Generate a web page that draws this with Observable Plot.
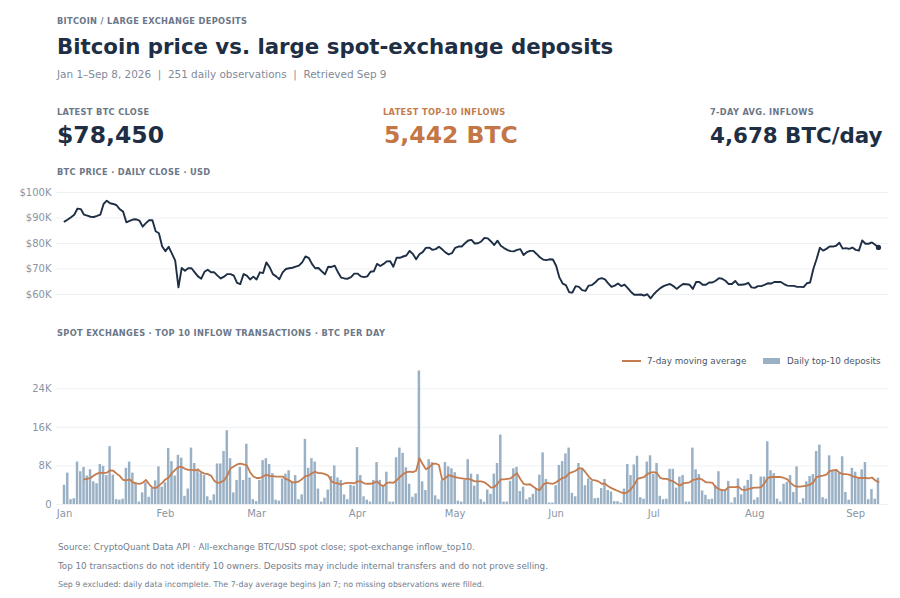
<!DOCTYPE html>
<html><head><meta charset="utf-8">
<script src="https://cdn.jsdelivr.net/npm/d3@7"></script>
<script src="https://cdn.jsdelivr.net/npm/@observablehq/plot@0.6"></script>
<style>
html,body{margin:0;padding:0;background:#fff;font-family:"DejaVu Sans",sans-serif;}
#page{position:relative;width:900px;height:598px;overflow:hidden;}
.t{position:absolute;white-space:nowrap;line-height:1;}
.lab{font-size:8.25px;font-weight:700;color:#6b7788;letter-spacing:.33px;}
.val{font-size:23.5px;font-weight:700;color:#1e2f45;}
.foot{font-size:8.75px;color:#727d8c;}
#price,#flow{position:absolute;left:0;}
svg{display:block;overflow:visible;}
</style></head><body>
<div id="page">
<div class="t lab" style="left:57px;top:17px">BITCOIN / LARGE EXCHANGE DEPOSITS</div>
<div class="t" style="left:57px;top:36px;font-size:21.3px;font-weight:700;color:#1e2f45">Bitcoin price vs. large spot-exchange deposits</div>
<div class="t" style="left:57px;top:69px;font-size:10.45px;color:#7f8a99">Jan 1–Sep 8, 2026&nbsp; |&nbsp; 251 daily observations&nbsp; |&nbsp; Retrieved Sep 9</div>
<div class="t lab" style="left:57px;top:108px">LATEST BTC CLOSE</div>
<div class="t val" style="left:57px;top:124px">$78,450</div>
<div class="t lab" style="left:383px;top:108px;color:#c47c4e">LATEST TOP-10 INFLOWS</div>
<div class="t val" style="left:384px;top:124px;color:#c47646">5,442 BTC</div>
<div class="t lab" style="left:710px;top:108px">7-DAY AVG. INFLOWS</div>
<div class="t val" style="left:710px;top:125px;font-size:21.4px">4,678 BTC/day</div>
<div class="t lab" style="left:57px;top:168px">BTC PRICE · DAILY CLOSE · USD</div>
<div id="price" style="top:180px"></div>
<div class="t lab" style="left:57px;top:329px">SPOT EXCHANGES · TOP 10 INFLOW TRANSACTIONS · BTC PER DAY</div>
<div id="flow" style="top:364px"></div>
<div style="position:absolute;left:622px;top:360px;width:19px;height:2px;background:#c47c4e"></div>
<div class="t" style="left:647px;top:357px;font-size:8.8px;color:#4a5565">7-day moving average</div>
<div style="position:absolute;left:763px;top:358px;width:17px;height:6px;background:#9ab0c4"></div>
<div class="t" style="left:787px;top:357px;font-size:8.8px;color:#4a5565">Daily top-10 deposits</div>
<div class="t foot" style="left:58px;top:543px">Source: CryptoQuant Data API · All-exchange BTC/USD spot close; spot-exchange inflow_top10.</div>
<div class="t foot" style="left:58px;top:562px">Top 10 transactions do not identify 10 owners. Deposits may include internal transfers and do not prove selling.</div>
<div class="t foot" style="left:58px;top:581px;font-size:7.85px">Sep 9 excluded: daily data incomplete. The 7-day average begins Jan 7; no missing observations were filled.</div>
</div>
<script>
// BTC daily close, $K, Jan 1 .. Sep 8
const priceK = [
88.6,89.4,90.3,91.3,93.7,93.5,91.3,90.9,90.5,90.4,
90.8,91.3,95.5,96.8,95.8,95.5,95.0,93.4,92.5,88.3,
88.9,89.4,89.5,89.0,86.6,88.0,89.1,89.1,84.8,84.0,
78.8,77.0,78.7,76.0,73.3,62.8,70.4,69.3,70.3,70.3,
68.7,67.1,66.2,68.9,69.7,68.7,68.7,67.4,66.3,67.0,
68.0,68.0,67.4,64.6,64.1,68.0,67.4,65.9,67.0,65.9,
68.7,68.4,72.6,70.7,68.0,67.1,66.0,68.7,70.0,70.3,
70.5,70.9,71.3,72.6,74.9,74.4,72.0,70.3,70.4,69.1,
67.9,70.9,70.8,71.3,68.7,66.6,66.3,66.2,66.8,68.2,
68.2,67.1,66.8,67.1,68.9,69.1,72.0,71.2,72.0,73.0,
73.1,70.9,74.4,74.4,74.9,75.3,77.1,75.9,73.8,75.8,
76.6,78.3,78.4,77.5,77.8,78.7,77.7,76.5,75.7,76.2,
78.3,78.8,78.8,80.1,81.2,81.4,80.0,80.1,80.8,82.2,
82.0,80.8,79.4,81.1,79.1,78.2,77.5,77.0,76.9,77.5,
77.8,75.5,76.6,77.1,77.1,75.9,74.6,73.7,73.5,73.8,
73.7,71.3,66.7,64.3,63.7,60.9,60.8,63.3,63.0,61.7,
61.4,63.5,63.7,64.7,66.0,66.4,65.9,64.4,63.0,63.5,
64.3,63.3,63.9,62.5,61.0,59.9,59.9,60.0,59.6,60.1,
58.5,60.1,61.4,62.5,63.3,63.8,64.1,63.3,62.2,63.2,
64.1,64.0,63.8,62.2,64.9,64.9,63.8,63.8,64.7,64.7,
65.4,66.4,66.2,65.4,64.1,64.1,65.3,63.8,63.8,64.0,
64.6,62.8,62.6,63.3,63.3,63.8,64.4,64.3,64.9,64.9,
64.9,64.1,63.5,63.4,63.4,63.0,63.0,62.9,64.4,64.7,
70.0,73.9,78.3,77.2,77.9,78.8,78.8,79.1,80.3,78.0,
78.2,77.9,78.4,77.5,77.2,81.2,79.9,79.9,80.4,79.5,
78.45];
// Daily top-10 inflows, K BTC
const depositsK = [
4.0,6.5,1.0,1.2,8.8,6.8,7.7,5.9,7.2,4.7,
4.3,8.3,7.9,6.0,12.0,6.1,1.0,0.9,1.1,7.5,
8.8,6.5,4.5,0.5,2.4,4.5,1.5,3.3,4.9,7.8,
3.6,4.5,11.6,8.9,5.9,10.2,9.6,1.7,3.2,11.7,
8.5,7.0,6.5,6.0,1.6,0.8,2.0,8.4,8.4,11.0,
15.3,9.5,2.4,5.0,7.7,5.0,12.5,5.5,1.0,0.6,
5.0,9.1,9.5,8.3,6.4,0.9,0.7,5.3,6.3,7.0,
4.7,6.0,1.0,2.0,13.5,7.5,9.5,8.8,3.2,0.5,
1.3,3.0,5.8,8.0,5.5,5.0,2.0,1.0,4.0,3.8,
11.8,6.0,1.6,0.9,0.5,5.0,8.7,5.0,3.7,6.7,
0.5,0.5,9.7,11.7,10.6,7.6,4.2,1.5,2.2,27.7,
4.7,2.9,9.3,8.7,1.8,1.0,4.9,8.7,7.8,7.4,
6.6,0.7,0.5,5.0,9.3,6.3,3.8,6.2,1.0,0.5,
3.0,2.1,6.3,8.5,14.4,0.5,0.5,4.8,7.4,7.7,
2.7,3.6,1.0,1.4,2.1,3.2,6.1,10.7,5.2,0.3,
0.3,3.9,8.1,8.9,10.5,11.7,2.3,1.6,8.5,7.4,
3.9,5.3,4.8,1.2,1.3,3.3,5.2,2.9,2.6,0.6,
0.6,0.3,3.2,8.3,6.0,8.2,10.0,1.4,1.1,8.8,
10.1,6.2,8.5,1.7,1.0,1.1,7.3,7.3,3.4,5.7,
6.0,0.5,0.5,11.7,7.2,6.2,2.8,1.9,1.0,1.1,
3.9,6.8,2.9,2.7,4.8,0.3,1.4,5.3,2.0,3.8,
5.0,6.2,0.9,1.4,5.7,5.7,13.0,7.0,6.4,1.1,
0.5,4.2,4.6,6.0,2.5,7.8,0.3,1.2,4.7,5.8,
6.2,11.0,12.3,1.4,1.1,10.1,7.0,7.0,6.5,9.9,
2.5,0.9,7.5,6.7,5.5,7.2,8.7,1.0,3.1,1.1,
5.442];
// 7-day moving average, K BTC; begins Jan 7
const averageK = [
null,null,null,null,null,null,5.2,5.3,5.5,6.0,
6.4,6.6,6.5,6.6,7.1,7.0,6.4,5.9,5.1,5.0,
5.2,4.6,4.4,4.3,4.5,5.1,4.2,3.5,3.4,3.9,
4.5,5.2,5.6,6.5,7.2,7.8,7.8,7.4,7.2,7.2,
7.1,7.3,6.7,6.4,6.3,6.0,4.9,4.5,4.6,5.0,
6.0,7.5,7.9,8.3,8.5,8.3,8.1,6.7,5.8,5.5,
5.5,5.8,6.2,5.9,5.9,5.8,5.8,5.8,5.3,5.0,
4.6,4.6,4.8,5.3,5.9,6.0,6.5,6.8,6.5,6.5,
6.3,6.0,4.8,4.5,4.4,4.1,4.4,4.5,4.5,4.4,
4.8,4.8,4.4,4.3,4.3,4.5,4.8,4.1,3.8,4.5,
4.6,4.5,5.0,5.7,6.3,6.7,6.8,6.7,7.0,9.6,
8.4,7.3,7.7,8.4,8.5,8.2,5.1,5.5,6.1,5.9,
5.7,5.5,5.4,5.3,5.3,5.1,4.8,4.8,4.8,4.6,
4.1,3.5,3.6,4.3,5.2,5.2,5.3,5.4,6.0,6.5,
5.3,4.3,4.1,4.2,3.7,3.2,3.0,4.1,4.5,4.4,
4.3,4.6,5.1,5.5,5.7,6.5,6.7,7.0,7.5,7.5,
6.7,5.8,5.1,5.0,4.8,4.3,4.3,3.8,3.4,3.1,
2.8,2.5,2.3,2.6,3.2,4.1,5.3,5.5,5.7,6.3,
6.6,6.7,6.5,5.5,5.3,5.3,5.0,4.8,4.3,3.9,
4.4,4.5,4.6,5.1,5.2,5.4,5.1,4.6,4.6,4.5,
3.6,3.2,3.0,3.0,3.6,3.6,3.6,3.7,3.1,3.0,
3.2,3.4,3.5,3.5,3.6,4.4,5.5,5.7,5.7,5.7,
5.7,5.5,5.2,4.5,3.9,3.7,3.7,3.8,3.9,4.1,
4.6,5.7,5.9,6.0,6.2,6.9,7.1,7.2,6.6,6.3,
6.3,6.2,5.9,5.7,5.5,5.5,5.5,5.4,5.6,5.0,
4.678];
const monthLabels = ["Jan","Feb","Mar","Apr","May","Jun","Jul","Aug","Sep"];
const priceTicksK = [60,70,80,90,100];
const depositTicksK = [0,8,16,24];

const firstDay = new Date(Date.UTC(2026,0,1));
const dayOf = i => d3.utcDay.offset(firstDay,i);
const priceRows = priceK.map((v,i)=>({date:dayOf(i),v}));
const depositRows = depositsK.map((v,i)=>({date:dayOf(i),v}));
const averageRows = averageK.map((v,i)=>({date:dayOf(i),v})).filter(d=>d.v!==null);
const monthTicks = monthLabels.map((_,m)=>new Date(Date.UTC(2026,m,1)));
const xDomain = [new Date(Date.UTC(2025,11,29,13)), new Date(Date.UTC(2026,8,11,2))];
const halfBar = 0.38*864e5;
const ink="#1e2f45", grid="#eef1f4", axisInk="#8a95a4";

const price = Plot.plot({
  width:900,height:120,marginLeft:56,marginRight:12,marginTop:12,marginBottom:6,
  style:{fontFamily:'"DejaVu Sans",sans-serif',fontSize:"10px",background:"transparent"},
  x:{type:"utc",domain:xDomain,axis:null},
  y:{domain:[60,100],ticks:priceTicksK},
  marks:[
    Plot.gridY(priceTicksK,{stroke:grid,strokeOpacity:1}),
    Plot.axisY(priceTicksK,{tickSize:0,tickPadding:5,tickFormat:d=>"$"+d+"K",color:axisInk,label:null}),
    Plot.line(priceRows,{x:"date",y:"v",stroke:ink,strokeWidth:1.9,clip:false}),
    Plot.dot(priceRows.slice(-1),{x:"date",y:"v",r:2.6,fill:ink})
  ]
});
document.getElementById("price").append(price);

const flow = Plot.plot({
  width:900,height:160,marginLeft:56,marginRight:12,marginTop:5,marginBottom:20,
  style:{fontFamily:'"DejaVu Sans",sans-serif',fontSize:"10px",background:"transparent"},
  x:{type:"utc",domain:xDomain},
  y:{domain:[0,28],ticks:depositTicksK},
  marks:[
    Plot.gridY(depositTicksK,{stroke:grid,strokeOpacity:1}),
    Plot.rectY(depositRows,{x1:d=>new Date(+d.date-halfBar),x2:d=>new Date(+d.date+halfBar),y:"v",fill:"#9ab0c4"}),
    Plot.line(averageRows,{x:"date",y:"v",stroke:"#c47c4e",strokeWidth:1.8}),
    Plot.axisY(depositTicksK,{tickSize:0,tickPadding:5,tickFormat:d=>d===0?"0":d+"K",color:axisInk,label:null}),
    Plot.axisX(monthTicks,{tickSize:0,tickPadding:5,tickFormat:d3.utcFormat("%b"),color:axisInk,label:null})
  ]
});
document.getElementById("flow").append(flow);
</script>
</body></html>
